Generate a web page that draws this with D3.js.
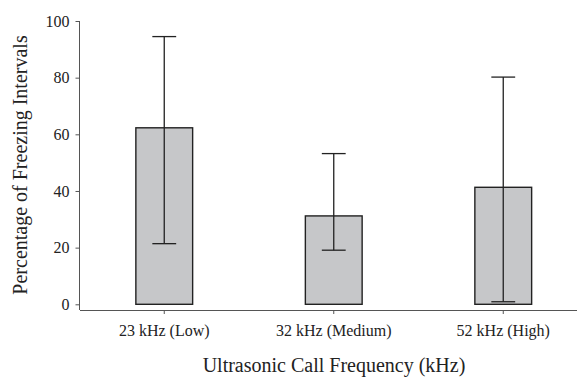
<!DOCTYPE html>
<html>
<head>
<meta charset="utf-8">
<script src="https://cdn.jsdelivr.net/npm/d3@7"></script>
<style>
  body { margin: 0; background: #fff; }
  svg { display: block; }
  svg text { font-family: 'Liberation Serif', 'Times New Roman', serif !important; }
</style>
</head>
<body>
<div id="container"></div>
<script>
const width = 577
const height = 377
const serif = "'Liberation Serif', 'Times New Roman', serif"

// data
const categories = ['23 kHz (Low)', '32 kHz (Medium)', '52 kHz (High)']
const means = [62.3, 31.2, 41.3]
const errUpper = [94.5, 53.2, 80.2]
const errLower = [21.4, 19.1, 0.9]
const yTicks = [0, 20, 40, 60, 80, 100]

const svg = d3.select('div#container').append('svg')
    .attr('width', width)
    .attr('height', height)

//----------------------------SCALES----------------------------//
const xScale = d3.scaleBand()
    .domain(categories)
    .range([79.5, 588])
    .paddingInner(0.665)
    .paddingOuter(0.3325)

const yScale = d3.scaleLinear()
    .domain([0, 100])
    .range([304.3, 21])

const axisY0 = 310   // x axis sits a bit below zero
const axisX0 = 79.5

//-----------------------------AXES-----------------------------//
const yAxis = d3.axisLeft(yScale)
    .tickValues(yTicks)
    .tickSize(4)
    .tickSizeOuter(0)
    .tickPadding(6)

const gy = svg.append('g')
    .attr('transform', 'translate(' + axisX0 + ',0)')
    .call(yAxis)
gy.select('.domain').remove()
gy.selectAll('line').attr('stroke', '#555')
gy.selectAll('text')
    .attr('fill', '#222')
    .style('font-family', serif)
    .style('font-size', '16px')
gy.append('line')
    .attr('x1', 0).attr('x2', 0)
    .attr('y1', yScale(100)).attr('y2', axisY0)
    .attr('stroke', '#555')

const xAxis = d3.axisBottom(xScale)
    .tickSize(4)
    .tickSizeOuter(0)
    .tickPadding(11)

const gx = svg.append('g')
    .attr('transform', 'translate(0,' + axisY0 + ')')
    .call(xAxis)
gx.select('.domain').attr('stroke', '#555')
gx.selectAll('line').attr('stroke', '#555')
gx.selectAll('text')
    .attr('fill', '#222')
    .style('font-family', serif)
    .style('font-size', '16px')

// axis titles
svg.append('text')
    .attr('transform', 'translate(27,165) rotate(-90)')
    .attr('text-anchor', 'middle')
    .style('font-family', serif)
    .style('font-size', '20px')
    .attr('fill', '#222')
    .text('Percentage of Freezing Intervals')

svg.append('text')
    .attr('x', 334)
    .attr('y', 372)
    .attr('text-anchor', 'middle')
    .style('font-family', serif)
    .style('font-size', '20px')
    .attr('fill', '#222')
    .text('Ultrasonic Call Frequency (kHz)')

//-----------------------------BARS-----------------------------//
const rows = categories.map((c, i) => ({
    cat: c, mean: means[i], hi: errUpper[i], lo: errLower[i]
}))

svg.selectAll('rect.bar')
    .data(rows)
    .enter()
    .append('rect')
    .attr('class', 'bar')
    .attr('x', d => xScale(d.cat))
    .attr('y', d => yScale(d.mean))
    .attr('width', xScale.bandwidth())
    .attr('height', d => yScale(0) - yScale(d.mean))
    .attr('fill', '#c6c7c9')
    .attr('stroke', '#222')
    .attr('stroke-width', 1.4)

//--------------------------ERROR BARS--------------------------//
const capHalf = xScale.bandwidth() * 0.21
const err = svg.selectAll('g.err')
    .data(rows)
    .enter()
    .append('g')
    .attr('class', 'err')
    .attr('stroke', '#222')
    .attr('stroke-width', 1.3)

err.append('line')
    .attr('x1', d => xScale(d.cat) + xScale.bandwidth() / 2)
    .attr('x2', d => xScale(d.cat) + xScale.bandwidth() / 2)
    .attr('y1', d => yScale(d.lo))
    .attr('y2', d => yScale(d.hi))

err.append('line')
    .attr('x1', d => xScale(d.cat) + xScale.bandwidth() / 2 - capHalf)
    .attr('x2', d => xScale(d.cat) + xScale.bandwidth() / 2 + capHalf)
    .attr('y1', d => yScale(d.hi))
    .attr('y2', d => yScale(d.hi))

err.append('line')
    .attr('x1', d => xScale(d.cat) + xScale.bandwidth() / 2 - capHalf)
    .attr('x2', d => xScale(d.cat) + xScale.bandwidth() / 2 + capHalf)
    .attr('y1', d => yScale(d.lo))
    .attr('y2', d => yScale(d.lo))
</script>
</body>
</html>
